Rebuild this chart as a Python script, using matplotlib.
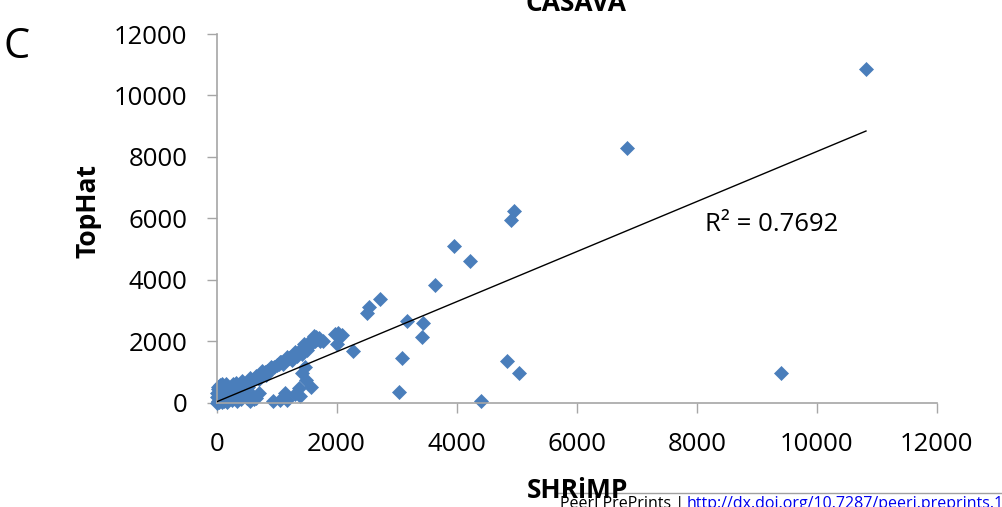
import numpy as np
import matplotlib
matplotlib.use("Agg")
import matplotlib.pyplot as plt
from matplotlib.lines import Line2D

plt.rcParams['font.family'] = ['Open Sans', 'DejaVu Sans']

# odczytane punkty (SHRiMP, TopHat)
# skupisko przy zerze
shrimp_blob = [0, 20, 40, 60, 90, 110, 130, 160, 180, 200, 230, 260, 290, 310, 340, 360, 380, 410,
               440, 470, 500, 530, 560, 600, 620, 0, 10, 30, 60, 90, 130, 170, 210, 250, 50, 100,
               20, 150, 280, 330, 420, 650, 700]
tophat_blob = [0, 40, 10, 90, 30, 150, 60, 200, 20, 120, 260, 80, 330, 170, 40, 380, 240, 110,
               450, 300, 160, 520, 60, 220, 120, 200, 330, 450, 580, 620, 400, 520, 470, 560, 260, 300,
               520, 600, 620, 650, 700, 150, 320]

# pas wzdluz przekatnej
shrimp_band = [300, 350, 400, 450, 480, 520, 560, 600, 640, 680, 720, 760, 800, 840, 880, 920, 960,
               1000, 1040, 1080, 1120, 1160, 1200, 1240, 1280, 1320, 1360, 1400, 1440, 1480, 1520,
               1560, 1600, 1640, 1680, 1720, 1650, 1580, 1500, 1420, 1340, 700, 650, 820, 1100,
               1250, 1460, 560, 760, 900, 1050, 1180, 1300]
tophat_band = [420, 480, 540, 560, 620, 640, 700, 740, 800, 840, 900, 940, 990, 1030, 1080, 1120,
               1170, 1220, 1260, 1310, 1360, 1400, 1450, 1500, 1540, 1600, 1640, 1680, 1740, 1790,
               1850, 1900, 1960, 2020, 2080, 2000, 2150, 2050, 1700, 1600, 1520, 780, 880, 900,
               1250, 1400, 1900, 820, 1020, 1170, 1340, 1480, 1640]

# dolna galaz
shrimp_low = [940, 1060, 1140, 1300, 1380, 1570, 1490, 1430, 1390, 1180, 1480]
tophat_low = [60, 100, 300, 290, 480, 500, 740, 980, 220, 80, 1150]

# punkty odstajace
shrimp_out = [10820, 6830, 4950, 4900, 3950, 4220, 3640, 2720, 2540, 2500, 3180, 3440, 3430, 3090,
              3040, 4400, 4830, 5040, 9400, 2270, 2030, 2000, 2090, 1980, 1700, 1780, 1620]
tophat_out = [10850, 8300, 6250, 5950, 5100, 4600, 3830, 3370, 3100, 2930, 2670, 2580, 2150, 1460,
              350, 60, 1370, 970, 960, 1670, 2270, 1900, 2220, 2250, 2120, 2020, 2180]

shrimp = np.array(shrimp_blob + shrimp_band + shrimp_low + shrimp_out)
tophat = np.array(tophat_blob + tophat_band + tophat_low + tophat_out)

# linia trendu
trend_slope = 0.8145
trend_intercept = 30
r2_text = "R² = 0.7692"

xticks = [0, 2000, 4000, 6000, 8000, 10000, 12000]
yticks = [0, 2000, 4000, 6000, 8000, 10000, 12000]

fig = plt.figure(figsize=(10.03, 5.07), dpi=100)
ax = fig.add_axes([0.216, 0.2057, 0.718, 0.7272])

ax.plot(shrimp, tophat, linestyle='none', marker='D', markersize=6.8,
        color='#4A7EBB', markeredgecolor='#4A7EBB', markeredgewidth=0.5,
        clip_on=False, zorder=2)

xt = np.array([shrimp.min(), shrimp.max()])
ax.plot(xt, trend_slope * xt + trend_intercept, color='black', linewidth=1.0, zorder=3)

ax.text(8140, 5790, r2_text, fontsize=18.5, va='center', ha='left')

ax.set_xlim(0, 12000)
ax.set_ylim(0, 12000)
ax.set_xticks(xticks)
ax.set_yticks(yticks)
ax.set_xticklabels([str(v) for v in xticks])
ax.set_yticklabels([str(v) for v in yticks])
ax.tick_params(direction='out', length=7, width=1, color='#A6A6A6', labelsize=18.5, pad=14)

for s in ['top', 'right']:
    ax.spines[s].set_visible(False)
for s in ['left', 'bottom']:
    ax.spines[s].set_color('#A6A6A6')
    ax.spines[s].set_linewidth(1.2)

# podpisy
fig.text(576 / 1003, 1 - 11 / 507, 'CASAVA', fontsize=19, fontweight='bold',
         ha='center', va='baseline')
fig.text(3 / 1003, 1 - 47 / 507, 'C', fontsize=30, ha='left', va='center')
fig.text(88 / 1003, 1 - 211 / 507, 'TopHat', fontsize=19, fontweight='bold',
         rotation=90, ha='center', va='center')
fig.text(577 / 1003, 1 - 490 / 507, 'SHRiMP', fontsize=19, fontweight='bold',
         ha='center', va='center')

# stopka
fig.add_artist(Line2D([555 / 1003, 1.0], [1 - 493 / 507, 1 - 493 / 507],
                      transform=fig.transFigure, color='#A0A0A0', linewidth=1))
fig.text(560 / 1003, 1 - 508 / 507, 'PeerJ PrePrints | ', fontsize=11.5,
         ha='left', va='baseline', color='black')
fig.text(687 / 1003, 1 - 508 / 507, 'http://dx.doi.org/10.7287/peerj.preprints.1005v1',
         fontsize=11.5, ha='left', va='baseline', color='#0000EE')

fig.savefig('out.png', dpi=100)
